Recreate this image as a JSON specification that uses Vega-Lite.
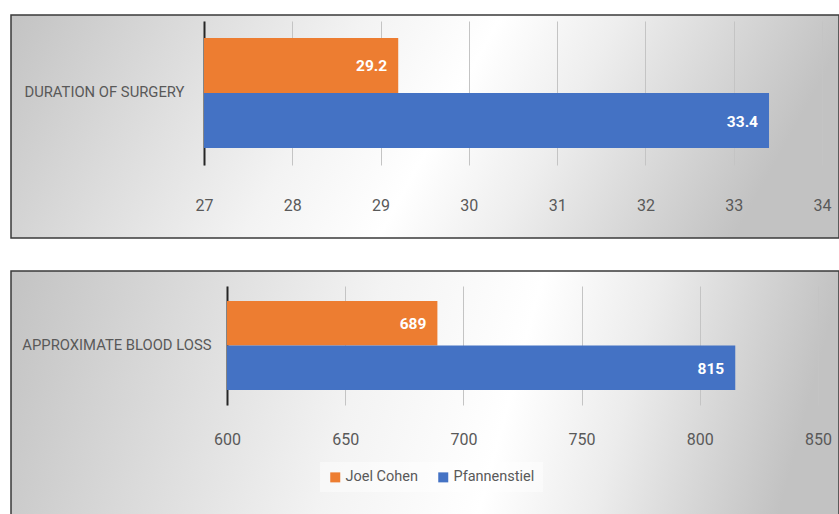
{
  "$schema": "https://vega.github.io/schema/vega-lite/v6.json",
  "padding": {"left": 10, "top": 14, "right": 0, "bottom": 0},
  "background": "white",
  "spacing": 31,
  "resolve": {"scale": {"x": "independent", "y": "independent", "yOffset": "independent"}},
  "config": {
    "font": "Roboto",
    "axis": {"labelFont": "Roboto", "labelColor": "#595959"},
    "legend": {"labelFont": "Roboto"}
  },
  "vconcat": [
    {
      "width": 828,
      "height": 223,
      "view": {
        "fill": {"gradient": "linear", "x1": 0, "y1": 0, "x2": 1, "y2": 0.15,
          "stops": [
            {"offset": 0, "color": "#c3c3c3"},
            {"offset": 0.42, "color": "#f3f3f3"},
            {"offset": 0.58, "color": "#ffffff"},
            {"offset": 0.72, "color": "#eeeeee"},
            {"offset": 1, "color": "#c2c2c2"}
          ]},
        "stroke": "#3a3a3a",
        "strokeWidth": 1.5
      },
      "data": {"values": [
        {"measure": "DURATION OF SURGERY", "group": "Joel Cohen", "value": 29.2},
        {"measure": "DURATION OF SURGERY", "group": "Pfannenstiel", "value": 33.4}
      ]},
      "encoding": {
        "y": {"field": "measure", "type": "nominal", "title": null,
          "scale": {"range": [6, 150], "paddingInner": 0, "paddingOuter": 0.1545},
          "axis": {"orient": "left", "offset": -193, "domain": true, "domainColor": "#262626", "domainWidth": 2,
            "ticks": false, "tickSize": 0, "grid": false, "labelPadding": 20, "labelFontSize": 14.8, "labelLimit": 400}},
        "yOffset": {"field": "group", "type": "nominal", "sort": ["Joel Cohen", "Pfannenstiel"],
          "scale": {"paddingInner": 0, "paddingOuter": 0}},
        "x": {"field": "value", "type": "quantitative",
          "scale": {"domain": [27, 34], "range": [193, 811], "nice": false, "zero": false},
          "axis": {"orient": "top", "offset": -150, "values": [27, 28, 29, 30, 31, 32, 33, 34], "title": null,
            "domain": false, "ticks": false, "tickSize": 0, "grid": true, "gridColor": "#c4c4c4", "gridWidth": 1,
            "labelPadding": -40, "labelBaseline": "middle", "labelFontSize": 16, "labelFlush": false, "labelOverlap": false}}
      },
      "layer": [
        {"mark": {"type": "bar"},
          "encoding": {
            "x2": {"datum": 27},
            "color": {"field": "group", "type": "nominal",
              "scale": {"domain": ["Joel Cohen", "Pfannenstiel"], "range": ["#ED7D31", "#4472C4"]},
              "legend": {"orient": "none", "legendX": 309, "legendY": 447, "direction": "horizontal", "title": null,
                "symbolType": "square", "symbolSize": 100, "symbolStrokeWidth": 0, "labelFontSize": 14.5, "labelColor": "#595959",
                "columnPadding": 18, "labelOffset": 3, "fillColor": "rgba(255,255,255,0.45)", "padding": 8}}
          }},
        {"mark": {"type": "text", "align": "right", "baseline": "middle", "dx": -11, "dy": 1, "color": "white", "fontWeight": "bold", "fontSize": 15.5},
          "encoding": {"text": {"field": "value", "type": "quantitative", "format": ".1f"}}}
      ]
    },
    {
      "width": 828,
      "height": 245,
      "view": {
        "fill": {"gradient": "linear", "x1": 0, "y1": 0, "x2": 1, "y2": 0.08,
          "stops": [
            {"offset": 0, "color": "#c3c3c3"},
            {"offset": 0.45, "color": "#f3f3f3"},
            {"offset": 0.64, "color": "#ffffff"},
            {"offset": 0.78, "color": "#ececec"},
            {"offset": 1, "color": "#c2c2c2"}
          ]},
        "stroke": "#3a3a3a",
        "strokeWidth": 1.5
      },
      "data": {"values": [
        {"measure": "APPROXIMATE BLOOD LOSS", "group": "Joel Cohen", "value": 689},
        {"measure": "APPROXIMATE BLOOD LOSS", "group": "Pfannenstiel", "value": 815}
      ]},
      "encoding": {
        "y": {"field": "measure", "type": "nominal", "title": null,
          "scale": {"range": [15, 134], "paddingInner": 0, "paddingOuter": 0.1685},
          "axis": {"orient": "left", "offset": -216, "domain": true, "domainColor": "#262626", "domainWidth": 2,
            "ticks": false, "tickSize": 0, "grid": false, "labelPadding": 16, "labelFontSize": 14.8, "labelLimit": 400}},
        "yOffset": {"field": "group", "type": "nominal", "sort": ["Joel Cohen", "Pfannenstiel"],
          "scale": {"paddingInner": 0, "paddingOuter": 0}},
        "x": {"field": "value", "type": "quantitative",
          "scale": {"domain": [600, 850], "range": [216, 807], "nice": false, "zero": false},
          "axis": {"orient": "top", "offset": -134, "values": [600, 650, 700, 750, 800, 850], "title": null,
            "domain": false, "ticks": false, "tickSize": 0, "grid": true, "gridColor": "#c4c4c4", "gridWidth": 1,
            "labelPadding": -34, "labelBaseline": "middle", "labelFontSize": 16, "labelFlush": false, "labelOverlap": false}}
      },
      "layer": [
        {"mark": {"type": "bar"},
          "encoding": {
            "x2": {"datum": 600},
            "color": {"field": "group", "type": "nominal",
              "scale": {"domain": ["Joel Cohen", "Pfannenstiel"], "range": ["#ED7D31", "#4472C4"]},
              "legend": {"orient": "none", "legendX": 309, "legendY": 447, "direction": "horizontal", "title": null,
                "symbolType": "square", "symbolSize": 100, "symbolStrokeWidth": 0, "labelFontSize": 14.5, "labelColor": "#595959",
                "columnPadding": 18, "labelOffset": 3, "fillColor": "rgba(255,255,255,0.45)", "padding": 8}}
          }},
        {"mark": {"type": "text", "align": "right", "baseline": "middle", "dx": -11, "dy": 1, "color": "white", "fontWeight": "bold", "fontSize": 15.5},
          "encoding": {"text": {"field": "value", "type": "quantitative", "format": "d"}}}
      ]
    }
  ]
}
